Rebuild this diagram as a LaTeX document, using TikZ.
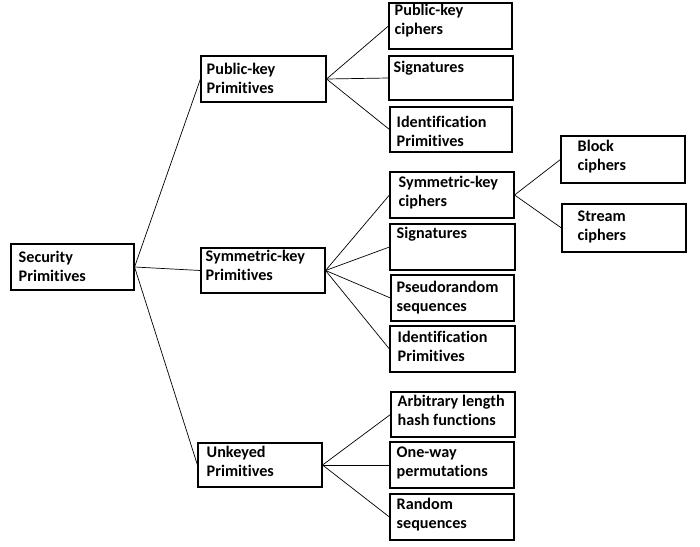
\documentclass[tikz,border=0pt]{standalone}
\usepackage{fontspec}
\setmainfont[Ligatures=NoCommon]{Carlito}
\usetikzlibrary{fit}

\begin{document}
\begin{tikzpicture}[x=0.025cm,y=-0.025cm,
  box/.style={draw=black,line width=0.8pt,inner sep=0pt,rectangle},
  txt/.style={anchor=north west,inner sep=0pt,align=left,font=\fontsize{11.5}{13.5}\selectfont\bfseries},
  link/.style={draw=black,line width=0.5pt}]
\useasboundingbox (0,0) rectangle (700,547);

\node[box,fit={(11,244) (134,290)}] (sec) {};
\node[box,fit={(201,56) (326,102)}] (pub) {};
\node[box,fit={(201,248) (325,293)}] (sym) {};
\node[box,fit={(198,443) (322,487)}] (unk) {};

\node[box,fit={(389,3) (512,49)}] (pkc) {};
\node[box,fit={(389,56) (513,100)}] (sig1) {};
\node[box,fit={(390,107) (512,152)}] (idp1) {};

\node[box,fit={(390,172) (514,218)}] (skc) {};
\node[box,fit={(390,224) (515,270)}] (sig2) {};
\node[box,fit={(391,275) (514,321)}] (prs) {};
\node[box,fit={(390,326) (515,372)}] (idp2) {};

\node[box,fit={(561,136) (685,183)}] (blk) {};
\node[box,fit={(562,204) (686,252)}] (str) {};

\node[box,fit={(391,392) (515,437)}] (arb) {};
\node[box,fit={(390,442) (514,488)}] (one) {};
\node[box,fit={(390,494) (514,540)}] (rnd) {};

\node[txt] (sec-t) at ([shift={(8,7)}]sec.north west) {Security\\Primitives};
\node[txt] (pub-t) at ([shift={(6,7)}]pub.north west) {Public-key\\Primitives};
\node[txt] (sym-t) at ([shift={(5,2)}]sym.north west) {Symmetric-key\\Primitives};
\node[txt] (unk-t) at ([shift={(9,3)}]unk.north west) {Unkeyed\\Primitives};
\node[txt] (pkc-t) at ([shift={(6,1)}]pkc.north west) {Public-key\\ciphers};
\node[txt] (sig1-t) at ([shift={(5,5)}]sig1.north west) {Signatures};
\node[txt] (idp1-t) at ([shift={(7,9)}]idp1.north west) {Identification\\Primitives};
\node[txt] (skc-t) at ([shift={(9,4)}]skc.north west) {Symmetric-key\\ciphers};
\node[txt] (sig2-t) at ([shift={(7,3)}]sig2.north west) {Signatures};
\node[txt] (prs-t) at ([shift={(6,6)}]prs.north west) {Pseudorandom\\sequences};
\node[txt] (idp2-t) at ([shift={(8,5)}]idp2.north west) {Identification\\Primitives};
\node[txt] (blk-t) at ([shift={(17,4)}]blk.north west) {Block\\ciphers};
\node[txt] (str-t) at ([shift={(16,7)}]str.north west) {Stream\\ciphers};
\node[txt] (arb-t) at ([shift={(7,3)}]arb.north west) {Arbitrary length\\hash functions};
\node[txt] (one-t) at ([shift={(7,5)}]one.north west) {One-way\\permutations};
\node[txt] (rnd-t) at ([shift={(7,4)}]rnd.north west) {Random\\sequences};

\foreach \t in {pub,sym,unk} \draw[link] (sec.east) -- (\t.west);
\foreach \t in {pkc,sig1,idp1} \draw[link] (pub.east) -- (\t.west);
\foreach \t in {skc,sig2,prs,idp2} \draw[link] (sym.east) -- (\t.west);
\foreach \t in {blk,str} \draw[link] (skc.east) -- (\t.west);
\foreach \t in {arb,one,rnd} \draw[link] (unk.east) -- (\t.west);

\end{tikzpicture}
\end{document}
